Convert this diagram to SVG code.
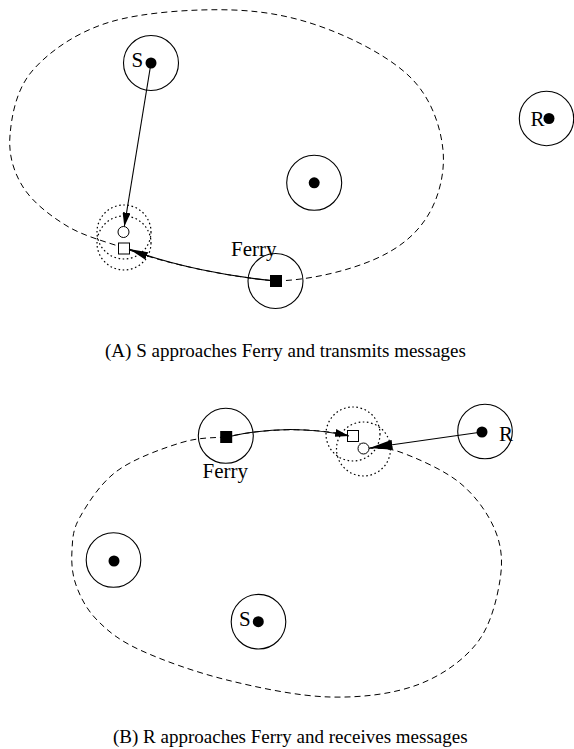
<svg xmlns="http://www.w3.org/2000/svg" width="574" height="749" viewBox="0 0 574 749">
<style>
.node{fill:none;stroke:#000;stroke-width:1.1}
.dot{fill:#000}
.lbl{font-family:"Liberation Serif","Times New Roman",serif;font-size:21px;fill:#000}
.cap{font-family:"Liberation Serif","Times New Roman",serif;font-size:19px;fill:#000}
.route{fill:none;stroke:#000;stroke-width:1;stroke-dasharray:6,4}
.range{fill:none;stroke:#000;stroke-width:1.2;stroke-dasharray:1.6,2.6}
.open{fill:#fff;stroke:#000;stroke-width:1}
.edge{fill:none;stroke:#000;stroke-width:1.1}
</style>
<defs>
<marker id="arrow-sm" markerUnits="userSpaceOnUse" viewBox="0 0 14 8" markerWidth="14" markerHeight="8" refX="14" refY="4" orient="auto"><path d="M0,0 L14,4 L0,8 z" fill="#000"/></marker>
<marker id="arrow-md" markerUnits="userSpaceOnUse" viewBox="0 0 19 8" markerWidth="19" markerHeight="8" refX="19" refY="4" orient="auto"><path d="M0,0 L19,4 L0,8 z" fill="#000"/></marker>
<marker id="arrow-lg" markerUnits="userSpaceOnUse" viewBox="0 0 23 10" markerWidth="23" markerHeight="10" refX="23" refY="5" orient="auto"><path d="M0,0 L23,5 L0,10 z" fill="#000"/></marker>
</defs>

<!-- Panel A -->
<g id="routes-a">
<path class="route" d="M276,281 C311,280 347.8,270.7 373,260 C398.2,249.3 415.3,235.3 427,217 C438.7,198.7 445.3,172.8 443,150 C440.7,127.2 431.8,100 413,80 C394.2,60 360,41.7 330,30 C300,18.3 269.7,11.3 233,10 C196.3,8.7 143.3,12 110,22 C76.7,32 49.7,51.2 33,70 C16.3,88.8 11.7,115.5 10,135 C8.3,154.5 13.5,171.8 23,187 C32.5,202.2 50.2,215.8 67,226 C83.8,236.2 106.3,241.8 124,248 C165,264 230,277 276,281 Z"/>
</g>
<g id="a-meet">
<circle class="range" cx="124" cy="232" r="27"/>
<circle class="range" cx="124" cy="243" r="27"/>
<circle class="open" cx="123.5" cy="232" r="5.5"/>
<rect class="open" x="118.5" y="243" width="11" height="11"/>
</g>
<g id="a-S">
<circle class="node" cx="151" cy="63" r="27.5"/>
<circle class="dot" cx="151" cy="63" r="5.5"/>
<text class="lbl" x="131.5" y="67">S</text>
</g>
<g id="a-mid">
<circle class="node" cx="314.2" cy="182.8" r="27.5"/>
<circle class="dot" cx="314.2" cy="182.8" r="5.5"/>
</g>
<g id="a-R">
<circle class="node" cx="546.5" cy="118.5" r="27.2"/>
<circle class="dot" cx="549" cy="118.5" r="5.5"/>
<text class="lbl" x="530.5" y="126">R</text>
</g>
<g id="a-Ferry">
<circle class="node" cx="275.5" cy="281" r="27.5"/>
<rect class="dot" x="270" y="275" width="12" height="12"/>
<text class="lbl" x="231" y="256">Ferry</text>
</g>
<g id="connectors-a">
<path class="edge" d="M151,63 L124.3,226.5" marker-end="url(#arrow-sm)"/>
<path class="edge" d="M276,281 C230,277 170,265 129,249" marker-end="url(#arrow-md)"/>
</g>
<text class="cap" x="105" y="357">(A) S approaches Ferry and transmits messages</text>

<!-- Panel B -->
<g id="routes-b">
<path class="route" d="M226,437 C211,438 198.2,437.3 180,443 C161.8,448.7 133.7,458.7 117,471 C100.3,483.3 87.5,503.8 80,517 C72.5,530.2 72.7,538.7 72,550 C71.3,561.3 71.8,573.3 76,585 C80.2,596.7 86.3,609.2 97,620 C107.7,630.8 118.3,640 140,650 C161.7,660 195.3,672.2 227,680 C258.7,687.8 298.3,696.2 330,697 C361.7,697.8 392.5,694 417,685 C441.5,676 463.2,660.5 477,643 C490.8,625.5 497,598.8 500,580 C503,561.2 501.7,546.2 495,530 C488.3,513.8 475.8,496 460,483 C444.2,470 416,457.8 400,452 C384,446.2 370,449.2 364,448 L353,436 Q290,423 226,437 Z"/>
</g>
<g id="b-meet">
<circle class="range" cx="353" cy="434" r="27"/>
<circle class="range" cx="363.5" cy="449" r="27"/>
<rect class="open" x="347.5" y="430.5" width="11" height="11"/>
<circle class="open" cx="363.5" cy="448.5" r="5.5"/>
</g>
<g id="b-Ferry">
<circle class="node" cx="225.8" cy="435.8" r="27.5"/>
<rect class="dot" x="220.2" y="431" width="12" height="12"/>
<text class="lbl" x="202.5" y="478">Ferry</text>
</g>
<g id="b-R">
<circle class="node" cx="485" cy="431.5" r="27.3"/>
<circle class="dot" cx="482" cy="432" r="5.5"/>
<text class="lbl" x="499" y="440.5">R</text>
</g>
<g id="b-left">
<circle class="node" cx="113.5" cy="560" r="27.3"/>
<circle class="dot" cx="114" cy="561" r="5.5"/>
</g>
<g id="b-S">
<circle class="node" cx="258.5" cy="621.7" r="27.3"/>
<circle class="dot" cx="258.3" cy="621.7" r="5.5"/>
<text class="lbl" x="239" y="626">S</text>
</g>
<g id="connectors-b">
<path class="edge" d="M232,436 Q290,423 349,436" marker-end="url(#arrow-sm)"/>
<path class="edge" d="M482,432 L369.5,448" marker-end="url(#arrow-lg)"/>
</g>
<text class="cap" x="113" y="743">(B) R approaches Ferry and receives messages</text>
</svg>
